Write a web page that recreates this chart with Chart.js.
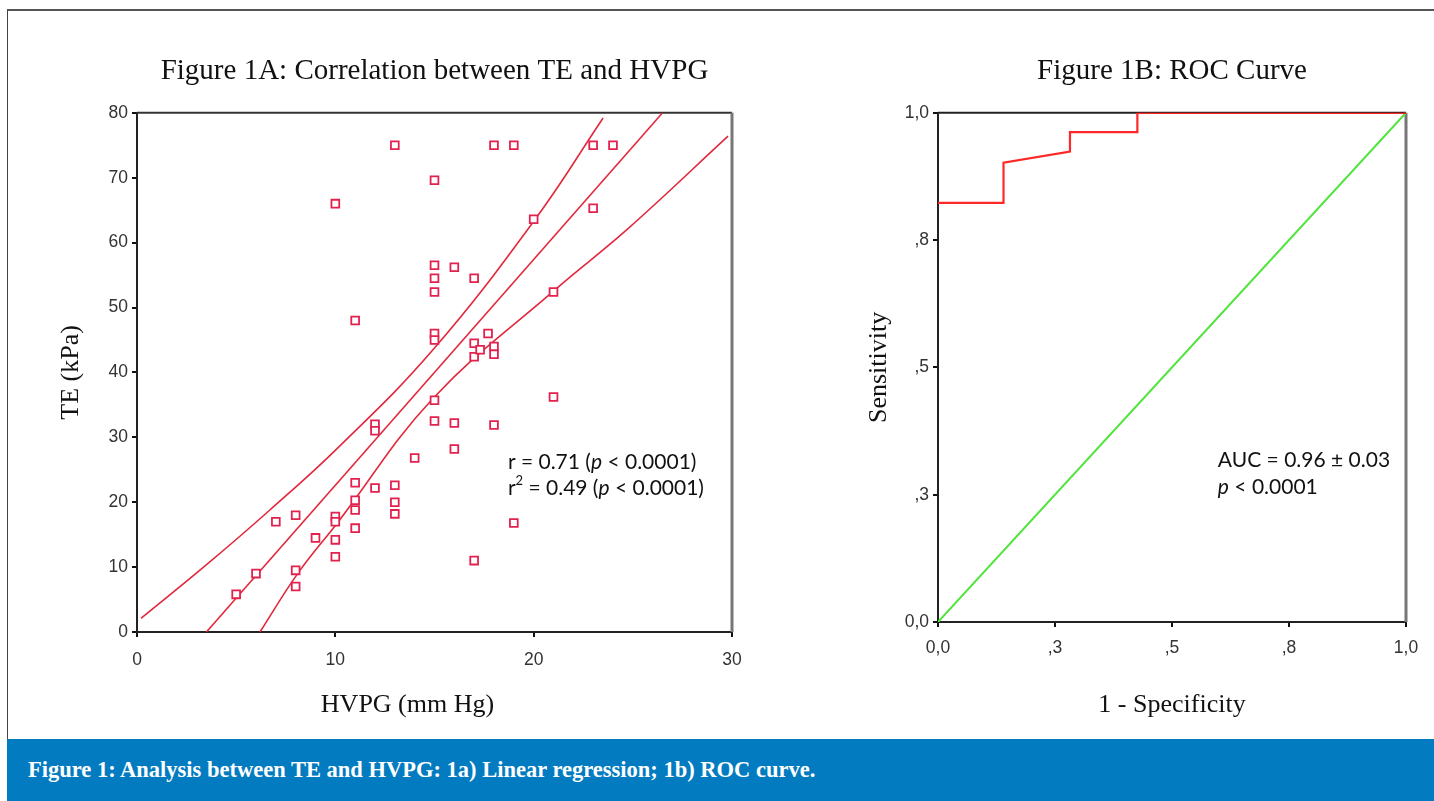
<!DOCTYPE html>
<html>
<head>
<meta charset="utf-8">
<script src="https://cdn.jsdelivr.net/npm/chart.js@4.4.1/dist/chart.umd.min.js"></script>
<style>
    body { margin: 0; background: #fff; width: 1434px; height: 801px; overflow: hidden; position: relative; }
    #frame { position: absolute; left: 7px; top: 9px; width: 1427px; height: 730px; border-top: 2px solid #555; border-left: 1px solid #444; box-sizing: border-box; }
    #caption { position: absolute; left: 7px; top: 739px; width: 1427px; height: 62px; background: #037bc0; color: #fff;
        font: bold 22.5px 'Liberation Serif', serif; line-height: 62px; padding-left: 21px; box-sizing: border-box; }
    canvas { position: absolute; top: 0; }
    #chartA { left: 0; }
    #chartB { left: 760px; }
</style>
</head>
<body>
<div id="frame"></div>
<canvas id="chartA" width="760" height="735"></canvas>
<canvas id="chartB" width="674" height="735"></canvas>
<div id="caption">Figure 1: Analysis between TE and HVPG: 1a) Linear regression; 1b) ROC curve.</div>

<script>
// Figure 1A - scatter of HVPG (mm Hg) vs TE (kPa)
const hvpg = [5, 6, 7, 8, 8, 8, 9, 10, 10, 10, 10, 10, 11, 11, 11, 11, 11, 12, 12, 12, 13, 13, 13, 13, 14,
    15, 15, 15, 15, 15, 15, 15, 15, 16, 16, 16, 17, 17, 17, 17, 17.3, 17.7, 18, 18, 18, 18, 19, 19, 20, 21, 21, 23, 23, 24];
const te = [5.8, 9, 17, 18, 9.5, 7, 14.5, 66, 17.8, 17, 14.2, 11.6, 48, 23, 20.3, 18.8, 16, 32, 31, 22.2, 75, 22.6, 20, 18.2, 26.8,
    69.6, 56.5, 54.5, 52.4, 46, 45, 35.7, 32.5, 56.2, 32.2, 28.2, 54.5, 44.5, 42.4, 11, 43.5, 46, 75, 44, 42.8, 31.9, 75, 16.8, 63.6, 52.4, 36.2, 75, 65.3, 75];

// regression line and its confidence band
const fitX = [3.5, 26.5];
const fitY = [0, 80];
const upperX = [0.2, 3.4, 6.7, 10.1, 14.9, 20.1, 23.5];
const upperY = [2.1, 10.1, 18.8, 28.3, 43.4, 63.7, 79.2];
const lowerX = [6.2, 8.1, 10.1, 14.9, 21.1, 24.7, 29.8];
const lowerY = [0, 9.0, 16.8, 35.9, 52.8, 62.0, 76.4];

// Figure 1B - ROC curve
const rocX = [0, 0.14, 0.14, 0.282, 0.282, 0.426, 0.426, 1];
const rocY = [0.823, 0.823, 0.902, 0.924, 0.962, 0.962, 1, 1];
const diagX = [0, 1];
const diagY = [0, 1];
const rocTicks = [0, 0.25, 0.5, 0.75, 1];
const rocTickLabels = ['0,0', ',3', ',5', ',8', '1,0'];

const serif = "'Liberation Serif', serif";
const tickFont = { family: "'Liberation Sans', Arial, sans-serif", size: 17.5 };
const tickColor = '#333';
const pts = (xs, ys) => xs.map((v, i) => ({ x: v, y: ys[i] }));

const framePlugin = {
    id: 'frame',
    beforeDatasetsDraw(chart, args, opts) {
        const { ctx, chartArea: a } = chart;
        ctx.save();
        ctx.lineWidth = 2;
        ctx.strokeStyle = opts.top;
        ctx.beginPath();
        ctx.moveTo(a.left, a.top);
        ctx.lineTo(a.right, a.top);
        ctx.stroke();
        ctx.lineWidth = 3;
        ctx.strokeStyle = opts.right;
        ctx.beginPath();
        ctx.moveTo(a.right, a.top);
        ctx.lineTo(a.right, a.bottom);
        ctx.stroke();
        ctx.restore();
    }
};

// text notes with italic / superscript runs
const notePlugin = {
    id: 'note',
    afterDatasetsDraw(chart, args, opts) {
        const { ctx, scales: { x, y } } = chart;
        ctx.save();
        ctx.fillStyle = '#111';
        ctx.textBaseline = 'middle';
        opts.lines.forEach(line => {
            let px = x.getPixelForValue(line.x);
            const py = y.getPixelForValue(line.y);
            line.runs.forEach(([text, style]) => {
                const size = style === 'sup' ? 13 : 21;
                ctx.font = `${style === 'i' ? 'italic ' : ''}${size}px Lato, sans-serif`;
                ctx.fillText(text, px, style === 'sup' ? py - 7 : py);
                px += ctx.measureText(text).width;
            });
        });
        ctx.restore();
    }
};

// x axis title that sits a bit left of the plot centre, as in the original
const xTitlePlugin = {
    id: 'xTitle',
    afterDraw(chart, args, opts) {
        if (!opts.text) return;
        const { ctx, chartArea: a } = chart;
        ctx.save();
        ctx.fillStyle = '#111';
        ctx.font = `26px ${serif}`;
        ctx.textAlign = 'center';
        ctx.textBaseline = 'middle';
        ctx.fillText(opts.text, (a.left + a.right) / 2 + opts.shift, a.bottom + opts.drop);
        ctx.restore();
    }
};

const axisGrid = { display: true, drawOnChartArea: false, drawTicks: true, tickLength: 5, color: '#111', lineWidth: 2 };
const axisBorder = { display: true, color: '#222', width: 2 };

new Chart(document.getElementById('chartA'), {
    type: 'scatter',
    data: {
        datasets: [{
            data: pts(hvpg, te),
            pointStyle: 'rect',
            pointRadius: 5.5,
            borderWidth: 1.8,
            borderColor: 'rgb(226, 34, 78)',
            backgroundColor: '#fff'
        }, {
            data: pts(fitX, fitY),
            showLine: true, pointRadius: 0, borderWidth: 1.6, borderColor: 'rgb(226, 40, 60)'
        }, {
            data: pts(upperX, upperY),
            showLine: true, pointRadius: 0, borderWidth: 1.6, borderColor: 'rgb(226, 40, 60)', tension: 0.4
        }, {
            data: pts(lowerX, lowerY),
            showLine: true, pointRadius: 0, borderWidth: 1.6, borderColor: 'rgb(226, 40, 60)', tension: 0.4
        }]
    },
    options: {
        responsive: false,
        animation: false,
        layout: { padding: { right: 28 } },
        plugins: {
            legend: { display: false },
            tooltip: { enabled: false },
            title: {
                display: true,
                text: 'Figure 1A: Correlation between TE and HVPG',
                fullSize: false,
                color: '#111',
                font: { family: serif, size: 29, weight: 'normal' },
                padding: { top: 54, bottom: 24 }
            },
            frame: { top: '#333', right: '#777' },
            note: {
                lines: [
                    { x: 18.7, y: 26.2, runs: [['r = 0.71 ('], ['p', 'i'], [' < 0.0001)']] },
                    { x: 18.7, y: 22.2, runs: [['r'], ['2', 'sup'], [' = 0.49 ('], ['p', 'i'], [' < 0.0001)']] }
                ]
            },
            xTitle: { text: 'HVPG (mm Hg)', shift: -27, drop: 73 }
        },
        scales: {
            x: {
                type: 'linear', min: 0, max: 30,
                afterFit(s) { s.height = 103; },
                ticks: { stepSize: 10, color: tickColor, font: tickFont, padding: 13 },
                grid: axisGrid,
                border: axisBorder
            },
            y: {
                min: 0, max: 80,
                afterFit(s) { s.width = 137; },
                ticks: { stepSize: 10, color: tickColor, font: tickFont, padding: 4 },
                grid: axisGrid,
                border: axisBorder,
                title: { display: true, text: 'TE (kPa)', color: '#111', font: { family: serif, size: 26 }, padding: { top: 56, bottom: 0 } }
            }
        }
    },
    plugins: [framePlugin, notePlugin, xTitlePlugin]
});

new Chart(document.getElementById('chartB'), {
    type: 'scatter',
    data: {
        datasets: [{
            data: pts(rocX, rocY),
            showLine: true, pointRadius: 0, borderWidth: 2.2, borderColor: 'rgb(255, 40, 40)'
        }, {
            data: pts(diagX, diagY),
            showLine: true, pointRadius: 0, borderWidth: 2, borderColor: 'rgb(80, 228, 60)'
        }]
    },
    options: {
        responsive: false,
        animation: false,
        layout: { padding: { right: 28 } },
        plugins: {
            legend: { display: false },
            tooltip: { enabled: false },
            title: {
                display: true,
                text: 'Figure 1B: ROC Curve',
                fullSize: false,
                color: '#111',
                font: { family: serif, size: 29, weight: 'normal' },
                padding: { top: 54, bottom: 24 }
            },
            frame: { top: '#222', right: '#777' },
            note: {
                lines: [
                    { x: 0.598, y: 0.318, runs: [['AUC = 0.96 ± 0.03']] },
                    { x: 0.598, y: 0.265, runs: [['p', 'i'], [' < 0.0001']] }
                ]
            }
        },
        scales: {
            x: {
                type: 'linear', min: 0, max: 1,
                afterFit(s) { s.height = 113; },
                afterBuildTicks(s) { s.ticks = rocTicks.map(v => ({ value: v })); },
                ticks: { color: tickColor, font: tickFont, padding: 11, callback: (v, i) => rocTickLabels[i] },
                grid: axisGrid,
                border: axisBorder,
                title: { display: true, text: '1 - Specificity', color: '#111', font: { family: serif, size: 26 }, padding: { top: 0, bottom: 14 } }
            },
            y: {
                min: 0, max: 1,
                afterFit(s) { s.width = 178; },
                afterBuildTicks(s) { s.ticks = rocTicks.map(v => ({ value: v })); },
                ticks: { color: tickColor, font: tickFont, padding: 4, callback: (v, i) => rocTickLabels[i] },
                grid: axisGrid,
                border: axisBorder,
                title: { display: true, text: 'Sensitivity', color: '#111', font: { family: serif, size: 26 }, padding: { top: 104, bottom: 0 } }
            }
        }
    },
    plugins: [framePlugin, notePlugin]
});
</script>
</body>
</html>
